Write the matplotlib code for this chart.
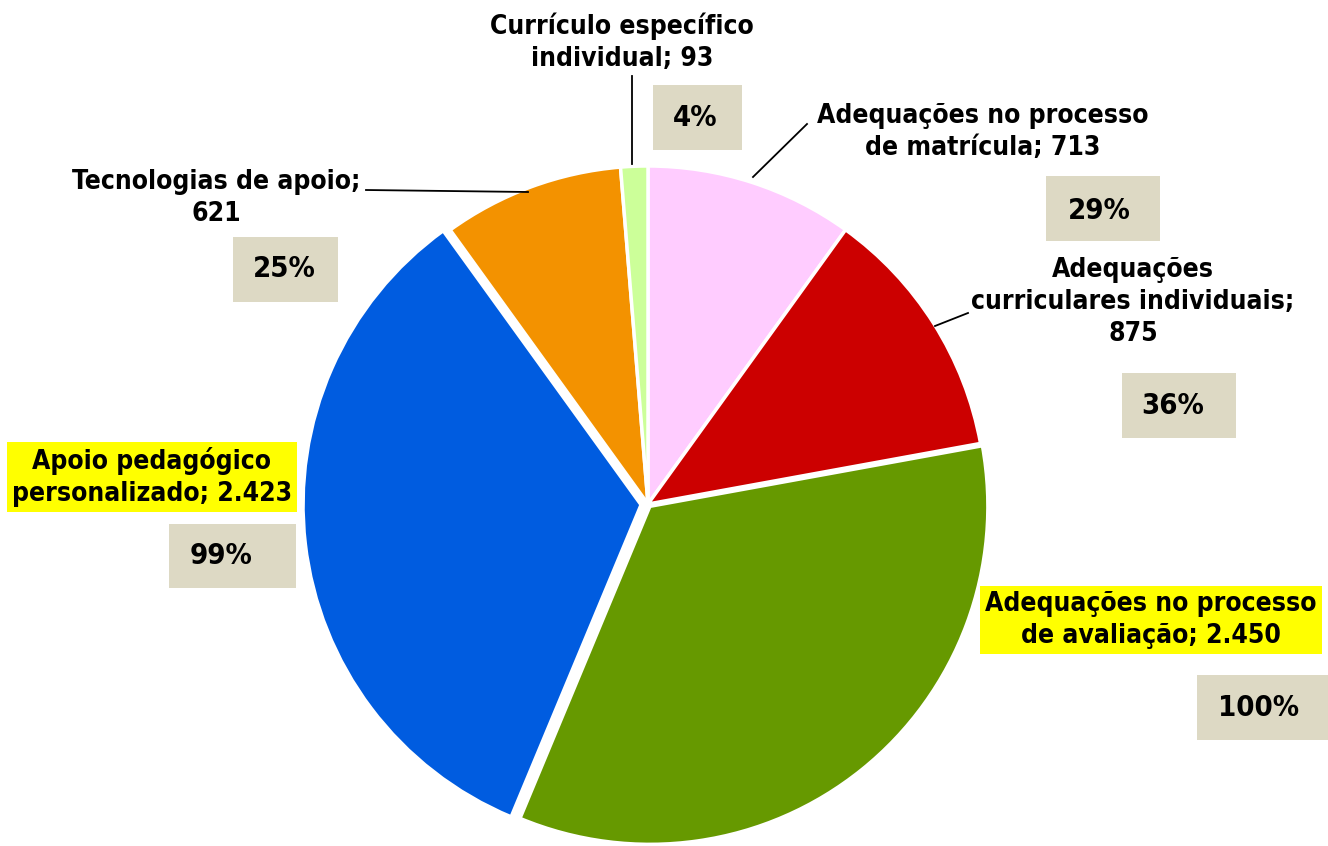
import matplotlib
matplotlib.use("Agg")
import matplotlib.pyplot as plt
from matplotlib.patches import Rectangle

# dados do gráfico
categorias = ["Adequações no processo\nde matrícula", "Adequações\ncurriculares individuais;\n",
              "Adequações no processo\nde avaliação", "Apoio pedagógico\npersonalizado",
              "Tecnologias de apoio;\n", "Currículo específico\nindividual"]
valores = [713, 875, 2450, 2423, 621, 93]
valores_txt = ["713", "875", "2.450", "2.423", "621", "93"]
cores = ["#FFCCFF", "#CC0000", "#669900", "#005CE0", "#F39200", "#CCFF99"]
explode = [0, 0, 3, 7, 0, 0]   # em px (unidades de dados)
destaque = [False, False, True, True, False, False]

W, H = 1328, 846
fig = plt.figure(figsize=(W / 100, H / 100), dpi=100)
ax = fig.add_axes([0, 0, 1, 1])

plt.rcParams['font.family'] = ['DejaVu Sans']
fonte = dict(family="DejaVu Sans", weight="bold", stretch="condensed")

def py(y):
    return H - y

ax.pie(valores, colors=cores, explode=explode, startangle=90, counterclock=False,
       center=(648, py(504)), radius=338, frame=True,
       wedgeprops=dict(edgecolor="white", linewidth=2.5))
ax.set_xlim(0, W)
ax.set_ylim(0, H)
ax.set_aspect("equal")
ax.axis("off")

# posições dos rótulos (px)
pos_rot = [(983, 132), (1133, 302), (1151, 620), (152, 477), (216, 198), (622, 42)]
caixas = [(1046, 176, 1160, 241), (1122, 373, 1236, 438), (1197, 675, 1328, 740),
          (169, 524, 296, 588), (233, 237, 338, 302), (653, 85, 742, 150)]
pos_pct = [(1099, 211), (1173, 406), (1259, 708), (221, 556), (284, 269), (695, 118)]
linhas = [((753, 177), (807, 124)), ((935, 326), (968, 313)), None, None,
          ((528, 192), (366, 190)), ((632, 164), (632, 76))]

vmax = max(valores)
for i, v in enumerate(valores):
    sep = "" if categorias[i].endswith("\n") else "; "
    txt = categorias[i] + sep + valores_txt[i]
    x, y = pos_rot[i]
    bb = dict(boxstyle="square,pad=0.2", fc="#FFFF00", ec="none") if destaque[i] else None
    ax.text(x, py(y), txt, ha="center", va="center", linespacing=1.3, bbox=bb,
            size=19, **fonte)
    x0, y0, x1, y1 = caixas[i]
    ax.add_patch(Rectangle((x0, py(y1)), x1 - x0, y1 - y0, fc="#DDD9C4", ec="none"))
    pct = round(v / vmax * 100)
    x, y = pos_pct[i]
    ax.text(x, py(y), f"{pct}%", ha="center", va="center", size=21, **fonte)
    if linhas[i]:
        (xa, ya), (xb, yb) = linhas[i]
        ax.plot([xa, xb], [py(ya), py(yb)], color="black", lw=1.3)

fig.savefig("out.png", dpi=100)
